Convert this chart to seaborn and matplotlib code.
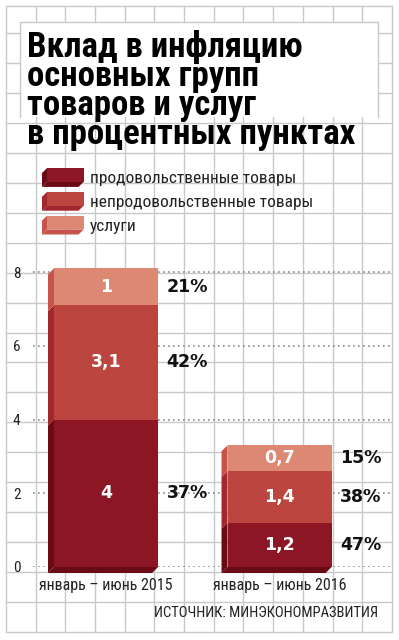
import numpy as np
import pandas as pd
import matplotlib
matplotlib.use("Agg")
import matplotlib.pyplot as plt
from matplotlib.patches import Rectangle, Polygon, Patch
from matplotlib.lines import Line2D
from matplotlib.legend_handler import HandlerBase
import seaborn as sns

# =========================================================
# DATA
# =========================================================

periods = ["январь – июнь 2015", "январь – июнь 2016"]
groups = ["продовольственные товары", "непродовольственные товары", "услуги"]

food = [4, 1.2]
nonfood = [3.1, 1.4]
services = [1, 0.7]

food_pct = ["37%", "47%"]
nonfood_pct = ["42%", "38%"]
services_pct = ["21%", "15%"]

value_labels = [["4", "1,2"], ["3,1", "1,4"], ["1", "0,7"]]

yticks = [0, 2, 4, 6, 8]

title_lines = ["Вклад в инфляцию", "основных групп", "товаров и услуг", "в процентных пунктах"]
source = "ИСТОЧНИК: МИНЭКОНОМРАЗВИТИЯ"

# colours: front face / side face
front_colors = ["#8c1624", "#bc463f", "#dc8872"]
side_colors = ["#6a0a15", "#a3272f", "#c7544a"]

COND = ["Roboto Condensed", "Liberation Sans Narrow", "DejaVu Sans"]

sns.set_style("white")
plt.rcParams["font.family"] = COND
plt.rcParams["axes.facecolor"] = "none"

W, H = 399, 640
fig = plt.figure(figsize=(W / 100, H / 100), dpi=100)

# =========================================================
# BACKGROUND: SQUARED PAPER + TITLE
# =========================================================

bg = fig.add_axes([0, 0, 1, 1], zorder=0)
bg.set_xlim(0, W)
bg.set_ylim(H, 0)
bg.axis("off")

grid_color = "#c9c9c9"
# title box (no squares inside it)
BX0, BX1, BY0, BY1 = 20, 378, 22, 117


def paper_line(xs, ys):
    fig.add_artist(Line2D(xs, ys, color=grid_color, lw=1,
                          transform=bg.transData, zorder=1))


for gx in [6] + list(np.linspace(35.5, 392, 13)):
    if BX0 < gx < BX1:
        paper_line([gx, gx], [6, BY0])
        paper_line([gx, gx], [BY1, 632])
    else:
        paper_line([gx, gx], [6, 632])

for gy in [6] + list(np.linspace(33, 632, 21)):
    if BY0 < gy < BY1:
        paper_line([6, BX0], [gy, gy])
        paper_line([BX1, 392], [gy, gy])
    else:
        paper_line([6, 392], [gy, gy])

paper_line([BX0, BX1], [BY0, BY0])
paper_line([BX0, BX0], [BY0, BY1])
paper_line([BX1, BX1], [BY0, BY1])

for i, line in enumerate(title_lines):
    fig.text(27 / W, 1 - (57 + i * 29) / H, line, fontsize=25, fontweight="black",
             color="black", va="baseline", ha="left", zorder=1.3, family=COND)

fig.text(378 / W, 1 - 613 / H, source, fontsize=10.5, color="#222222",
         ha="right", va="center", zorder=1.3)

# =========================================================
# STACKED BARS
# =========================================================

ax = fig.add_axes([33 / W, 1 - 567 / H, (392 - 33) / W, (567 - 240) / H], zorder=2)
ax.set_facecolor("none")

stack = pd.DataFrame({"period": periods, "food": food,
                      "nonfood": nonfood, "services": services})
stack["c1"] = stack["food"]
stack["c2"] = stack["c1"] + stack["nonfood"]
stack["c3"] = stack["c2"] + stack["services"]

# draw tallest first, the lower parts on top
for col, color in zip(["c3", "c2", "c1"], front_colors[::-1]):
    sns.barplot(data=stack, x="period", y=col, color=color, saturation=1,
                width=0.6, edgecolor="none", linewidth=0, ax=ax, zorder=3)

ax.set_xlim(-0.421, 1.648)
ax.set_ylim(0, (567 - 240) / 36.875)
ax.set_yticks(yticks)
ax.set_xlabel("")
ax.set_ylabel("")
for s in ax.spines.values():
    s.set_visible(False)
ax.set_axisbelow(True)
ax.yaxis.grid(True, linestyle=(0, (1, 2)), color="#8c8c8c", lw=1.2)
ax.tick_params(axis="y", length=0, pad=9, labelsize=11, labelcolor="#222222")
ax.tick_params(axis="x", length=0, pad=8, labelsize=11.5, labelcolor="#222222")

# 3D side faces, offset in pixels
DX, DY = 6, 6
to_px = ax.transData.transform
to_data = ax.transData.inverted().transform

cums = [stack["c1"], stack["c2"], stack["c3"]]
pcts = [food_pct, nonfood_pct, services_pct]

bar_x = [p.get_x() for p in ax.patches[:len(periods)]]
bar_w = ax.patches[0].get_width()

for i in range(len(periods)):
    x0 = bar_x[i]
    lower = 0
    for k in range(3):
        upper = cums[k][i]
        a = to_px((x0, lower))
        b = to_px((x0, upper))
        pts = [a, b, b + [-DX, -DY], a + [-DX, -DY]]
        ax.add_patch(Polygon(to_data(pts), closed=True, facecolor=side_colors[k],
                             edgecolor="none", zorder=2, clip_on=False))
        mid = (lower + upper) / 2
        ax.text(x0 + bar_w / 2, mid, value_labels[k][i], color="white",
                fontsize=12.5, fontweight="bold", ha="center", va="center",
                family="DejaVu Sans", zorder=5)
        ax.annotate(pcts[k][i], xy=(x0 + bar_w, mid), xytext=(6, 0),
                    textcoords="offset points", ha="left", va="center",
                    fontsize=12.5, fontweight="bold", color="#111111",
                    family="DejaVu Sans", zorder=5)
        lower = upper
    # bottom face
    a = to_px((x0, 0))
    b = to_px((x0 + bar_w, 0))
    pts = [a, b, b + [-DX, -DY], a + [-DX, -DY]]
    ax.add_patch(Polygon(to_data(pts), closed=True, facecolor=side_colors[0],
                         edgecolor="none", zorder=2, clip_on=False))

# =========================================================
# LEGEND WITH 3D BOXES
# =========================================================

class Box3D(HandlerBase):
    def __init__(self, side):
        super().__init__()
        self.side = side

    def create_artists(self, legend, orig_handle, xdescent, ydescent,
                       width, height, fontsize, trans):
        d = 0.27 * height
        x0, y0 = -xdescent, -ydescent
        front = Rectangle((x0 + d, y0 + d), width - d, height - d,
                          facecolor=orig_handle.get_facecolor(), edgecolor="none",
                          transform=trans)
        side = Polygon([(x0 + d, y0 + d), (x0 + d, y0 + height),
                        (x0, y0 + height - d), (x0, y0)],
                       facecolor=self.side, edgecolor="none", transform=trans)
        bottom = Polygon([(x0 + d, y0 + d), (x0 + width, y0 + d),
                          (x0 + width - d, y0), (x0, y0)],
                         facecolor=self.side, edgecolor="none", transform=trans)
        return [side, bottom, front]

handles = [Patch(facecolor=c) for c in front_colors]
leg = ax.legend(handles, groups,
                handler_map={h: Box3D(s) for h, s in zip(handles, side_colors)},
                loc="upper left", bbox_to_anchor=(42 / W, 1 - 168 / H),
                bbox_transform=fig.transFigure, frameon=False,
                fontsize=12.5, handlelength=2.4, handleheight=1.3,
                handletextpad=0.35, labelspacing=0.28,
                borderpad=0, borderaxespad=0)
for t in leg.get_texts():
    t.set_color("#222222")

fig.savefig("out.png", dpi=100)
